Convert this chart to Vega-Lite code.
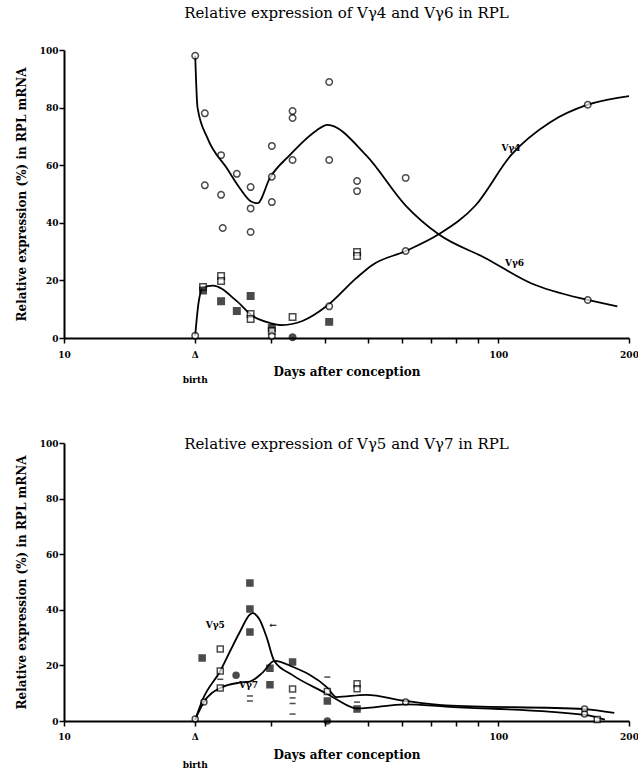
{
  "$schema": "https://vega.github.io/schema/vega-lite/v6.json",
  "background": "white",
  "padding": {"left": 15, "top": 6, "right": 0, "bottom": 0},
  "spacing": 53,
  "config": {
    "font": "DejaVu Serif",
    "view": {"stroke": null},
    "title": {"font": "DejaVu Serif", "fontSize": 15, "fontWeight": "normal", "color": "black", "anchor": "middle"},
    "axis": {
      "domainColor": "black", "domainWidth": 2, "tickColor": "black", "tickWidth": 1.5, "tickSize": 5,
      "labelFont": "DejaVu Serif", "labelFontWeight": "bold", "labelFontSize": 9, "labelColor": "black",
      "titleFont": "DejaVu Serif", "titleFontWeight": "bold", "titleFontSize": 12, "titleColor": "black",
      "grid": false
    }
  },
  "datasets": {
    "top_points": [
      {"day": 20.05, "value": 98, "marker": "open circle"},
      {"day": 21.1, "value": 78, "marker": "open circle"},
      {"day": 21.1, "value": 53, "marker": "open circle"},
      {"day": 23.0, "value": 63.5, "marker": "open circle"},
      {"day": 23.0, "value": 49.7, "marker": "open circle"},
      {"day": 23.2, "value": 38.2, "marker": "open circle"},
      {"day": 25.0, "value": 57, "marker": "open circle"},
      {"day": 26.9, "value": 52.4, "marker": "open circle"},
      {"day": 26.9, "value": 45, "marker": "open circle"},
      {"day": 26.9, "value": 36.8, "marker": "open circle"},
      {"day": 30.1, "value": 66.7, "marker": "open circle"},
      {"day": 30.1, "value": 56, "marker": "open circle"},
      {"day": 30.1, "value": 47.2, "marker": "open circle"},
      {"day": 33.6, "value": 78.8, "marker": "open circle"},
      {"day": 33.6, "value": 76.4, "marker": "open circle"},
      {"day": 33.6, "value": 61.8, "marker": "open circle"},
      {"day": 40.8, "value": 88.9, "marker": "open circle"},
      {"day": 40.8, "value": 61.8, "marker": "open circle"},
      {"day": 47.3, "value": 54.5, "marker": "open circle"},
      {"day": 47.3, "value": 51, "marker": "open circle"},
      {"day": 61.2, "value": 55.6, "marker": "open circle"},
      {"day": 160.7, "value": 13.2, "marker": "open circle"},
      {"day": 20.05, "value": 0.8, "marker": "open circle"},
      {"day": 20.9, "value": 17.7, "marker": "open square"},
      {"day": 20.9, "value": 16.5, "marker": "filled square"},
      {"day": 23.0, "value": 21.5, "marker": "open square"},
      {"day": 23.0, "value": 19.8, "marker": "open square"},
      {"day": 23.0, "value": 12.8, "marker": "filled square"},
      {"day": 25.0, "value": 9.4, "marker": "filled square"},
      {"day": 26.9, "value": 14.6, "marker": "filled square"},
      {"day": 26.9, "value": 8.3, "marker": "open square"},
      {"day": 26.9, "value": 6.6, "marker": "open square"},
      {"day": 30.1, "value": 3.5, "marker": "filled square"},
      {"day": 30.1, "value": 2.4, "marker": "open square"},
      {"day": 30.1, "value": 0.7, "marker": "open circle"},
      {"day": 33.6, "value": 7.3, "marker": "open square"},
      {"day": 33.6, "value": 0.3, "marker": "filled circle"},
      {"day": 40.8, "value": 11, "marker": "open circle"},
      {"day": 40.8, "value": 5.6, "marker": "filled square"},
      {"day": 47.3, "value": 29.9, "marker": "open square"},
      {"day": 47.3, "value": 28.5, "marker": "open square"},
      {"day": 61.2, "value": 30.2, "marker": "open circle"},
      {"day": 160.7, "value": 81, "marker": "open circle"}
    ],
    "top_curves": [
      {"series": "Vγ6", "day": 20.05, "value": 98},
      {"series": "Vγ6", "day": 20.3, "value": 80},
      {"series": "Vγ6", "day": 21.4, "value": 69.4},
      {"series": "Vγ6", "day": 23.7, "value": 59},
      {"series": "Vγ6", "day": 25.4, "value": 52},
      {"series": "Vγ6", "day": 26.9, "value": 47.5},
      {"series": "Vγ6", "day": 27.9, "value": 46.8},
      {"series": "Vγ6", "day": 29.8, "value": 55.6},
      {"series": "Vγ6", "day": 33.1, "value": 63.5},
      {"series": "Vγ6", "day": 38.1, "value": 72},
      {"series": "Vγ6", "day": 40.4, "value": 74},
      {"series": "Vγ6", "day": 49.6, "value": 63.5},
      {"series": "Vγ6", "day": 61.2, "value": 46},
      {"series": "Vγ6", "day": 72.9, "value": 36},
      {"series": "Vγ6", "day": 93.3, "value": 27.8},
      {"series": "Vγ6", "day": 119, "value": 19},
      {"series": "Vγ6", "day": 160.7, "value": 13.2},
      {"series": "Vγ6", "day": 188, "value": 11},
      {"series": "Vγ4", "day": 20.05, "value": 0.8},
      {"series": "Vγ4", "day": 20.4, "value": 12},
      {"series": "Vγ4", "day": 20.9, "value": 17.5},
      {"series": "Vγ4", "day": 22.0, "value": 18.2},
      {"series": "Vγ4", "day": 25.0, "value": 12.8},
      {"series": "Vγ4", "day": 27.2, "value": 7.6},
      {"series": "Vγ4", "day": 29.8, "value": 5.2},
      {"series": "Vγ4", "day": 31.8, "value": 4.5},
      {"series": "Vγ4", "day": 35.4, "value": 5.9},
      {"series": "Vγ4", "day": 40.2, "value": 11},
      {"series": "Vγ4", "day": 47.1, "value": 20.8},
      {"series": "Vγ4", "day": 51.2, "value": 25.3},
      {"series": "Vγ4", "day": 61.2, "value": 30.2},
      {"series": "Vγ4", "day": 72.9, "value": 36},
      {"series": "Vγ4", "day": 88.6, "value": 46},
      {"series": "Vγ4", "day": 107, "value": 63.5},
      {"series": "Vγ4", "day": 132, "value": 75},
      {"series": "Vγ4", "day": 160.7, "value": 81},
      {"series": "Vγ4", "day": 200, "value": 84}
    ],
    "top_labels": [
      {"day": 107, "value": 66, "text": "Vγ4"},
      {"day": 109, "value": 26, "text": "Vγ6"}
    ],
    "bot_points": [
      {"day": 26.8, "value": 49.6, "marker": "filled square"},
      {"day": 26.8, "value": 40.3, "marker": "filled square"},
      {"day": 26.8, "value": 32, "marker": "filled square"},
      {"day": 20.8, "value": 22.7, "marker": "filled square"},
      {"day": 24.9, "value": 16.5, "marker": "filled circle"},
      {"day": 29.8, "value": 19, "marker": "filled square"},
      {"day": 29.8, "value": 13, "marker": "filled square"},
      {"day": 33.6, "value": 21.2, "marker": "filled square"},
      {"day": 40.4, "value": 7.2, "marker": "filled square"},
      {"day": 47.3, "value": 4.3, "marker": "filled square"},
      {"day": 40.4, "value": 0, "marker": "filled circle"},
      {"day": 22.9, "value": 25.9, "marker": "open square"},
      {"day": 22.9, "value": 18, "marker": "open square"},
      {"day": 22.9, "value": 11.9, "marker": "open square"},
      {"day": 33.6, "value": 11.5, "marker": "open square"},
      {"day": 40.4, "value": 10.6, "marker": "open square"},
      {"day": 47.3, "value": 13.4, "marker": "open square"},
      {"day": 47.3, "value": 11.6, "marker": "open square"},
      {"day": 169, "value": 0.5, "marker": "open square"},
      {"day": 20.05, "value": 0.7, "marker": "open circle"},
      {"day": 21.0, "value": 6.8, "marker": "open circle"},
      {"day": 61.2, "value": 6.8, "marker": "open circle"},
      {"day": 158, "value": 4.3, "marker": "open circle"},
      {"day": 158, "value": 2.5, "marker": "open circle"},
      {"day": 22.9, "value": 15, "marker": "dash"},
      {"day": 26.8, "value": 9, "marker": "dash"},
      {"day": 26.8, "value": 7.2, "marker": "dash"},
      {"day": 33.6, "value": 8.3, "marker": "dash"},
      {"day": 33.6, "value": 6.3, "marker": "dash"},
      {"day": 33.6, "value": 2.5, "marker": "dash"},
      {"day": 40.4, "value": 15.8, "marker": "dash"},
      {"day": 47.3, "value": 6.8, "marker": "dash"}
    ],
    "bot_curves": [
      {"series": "Vγ5", "day": 20.05, "value": 0.5},
      {"series": "Vγ5", "day": 20.9, "value": 8},
      {"series": "Vγ5", "day": 22.9, "value": 18},
      {"series": "Vγ5", "day": 24.1, "value": 25},
      {"series": "Vγ5", "day": 25.4, "value": 32},
      {"series": "Vγ5", "day": 26.8, "value": 38.3},
      {"series": "Vγ5", "day": 27.2, "value": 38.8},
      {"series": "Vγ5", "day": 28.2, "value": 36.5},
      {"series": "Vγ5", "day": 29.3, "value": 30},
      {"series": "Vγ5", "day": 30.5, "value": 21.6},
      {"series": "Vγ5", "day": 33.6, "value": 16.5},
      {"series": "Vγ5", "day": 40.4, "value": 9.7},
      {"series": "Vγ5", "day": 42.4, "value": 7.8},
      {"series": "Vγ5", "day": 47.3, "value": 4.5},
      {"series": "Vγ5", "day": 61.2, "value": 6.0},
      {"series": "Vγ5", "day": 75.7, "value": 5.2},
      {"series": "Vγ5", "day": 158, "value": 2.2},
      {"series": "Vγ5", "day": 176, "value": 0.5},
      {"series": "Vγ7", "day": 20.05, "value": 0.5},
      {"series": "Vγ7", "day": 21.0, "value": 6.8},
      {"series": "Vγ7", "day": 22.9, "value": 11.9},
      {"series": "Vγ7", "day": 25.4, "value": 13.8},
      {"series": "Vγ7", "day": 26.8, "value": 14.2},
      {"series": "Vγ7", "day": 28.7, "value": 17.5},
      {"series": "Vγ7", "day": 30.5, "value": 21.6},
      {"series": "Vγ7", "day": 33.6, "value": 19.5},
      {"series": "Vγ7", "day": 40.4, "value": 12},
      {"series": "Vγ7", "day": 42.4, "value": 8.6},
      {"series": "Vγ7", "day": 49.6, "value": 9.4},
      {"series": "Vγ7", "day": 61.2, "value": 7.2},
      {"series": "Vγ7", "day": 75.7, "value": 5.6},
      {"series": "Vγ7", "day": 158, "value": 4.3},
      {"series": "Vγ7", "day": 185, "value": 2.9}
    ],
    "bot_labels": [
      {"day": 22.3, "value": 34.5, "text": "Vγ5"},
      {"day": 26.6, "value": 12.8, "text": "Vγ7"},
      {"day": 30.3, "value": 34.5, "text": "←"}
    ]
  },
  "vconcat": [
    {
      "width": 565,
      "height": 288,
      "title": {"text": "Relative expression of Vγ4 and Vγ6 in RPL", "offset": 25},
      "layer": [
        {
          "data": {"name": "top_curves"},
          "mark": {"type": "line", "interpolate": "monotone", "color": "black", "strokeWidth": 1.8},
          "encoding": {
            "x": {"field": "day", "type": "quantitative", "scale": {"type": "log", "domain": [10, 200], "nice": false},
              "axis": {"values": [10, 20, 30, 40, 50, 60, 70, 80, 90, 100, 200], "title": "Days after conception",
                "labelExpr": "datum.value == 20 ? ['Δ', 'birth'] : (datum.value == 10 || datum.value == 100 || datum.value == 200) ? datum.label : ''",
                "labelLineHeight": 25, "labelPadding": 7, "labelFlush": false, "labelOverlap": false, "titleY": 37, "titleBaseline": "alphabetic"}},
            "y": {"field": "value", "type": "quantitative", "scale": {"domain": [0, 100], "nice": false},
              "axis": {"values": [0, 10, 20, 30, 40, 50, 60, 70, 80, 90, 100], "labelExpr": "datum.value % 20 == 0 ? datum.label : ''",
                "title": "Relative expression (%) in RPL mRNA", "titlePadding": 11, "labelPadding": 1}},
            "detail": {"field": "series"}
          }
        },
        {
          "data": {"name": "top_points"},
          "mark": {"type": "point", "filled": true, "stroke": "black", "strokeWidth": 1.5, "size": 42},
          "encoding": {
            "x": {"field": "day", "type": "quantitative"},
            "y": {"field": "value", "type": "quantitative"},
            "shape": {"field": "marker", "type": "nominal", "legend": null,
              "scale": {"domain": ["open circle", "open square", "filled square", "filled circle", "dash"], "range": ["circle", "square", "square", "circle", "stroke"]}},
            "fill": {"field": "marker", "type": "nominal", "legend": null,
              "scale": {"domain": ["open circle", "open square", "filled square", "filled circle", "dash"], "range": ["white", "white", "black", "black", "black"]}}
          }
        },
        {
          "data": {"name": "top_labels"},
          "mark": {"type": "text", "font": "DejaVu Serif", "fontSize": 9, "fontWeight": "bold", "color": "black"},
          "encoding": {
            "x": {"field": "day", "type": "quantitative"},
            "y": {"field": "value", "type": "quantitative"},
            "text": {"field": "text"}
          }
        }
      ]
    },
    {
      "width": 565,
      "height": 278,
      "title": {"text": "Relative expression of Vγ5 and Vγ7 in RPL", "offset": -13},
      "layer": [
        {
          "data": {"name": "bot_curves"},
          "mark": {"type": "line", "interpolate": "monotone", "color": "black", "strokeWidth": 1.8},
          "encoding": {
            "x": {"field": "day", "type": "quantitative", "scale": {"type": "log", "domain": [10, 200], "nice": false},
              "axis": {"values": [10, 20, 30, 40, 50, 60, 70, 80, 90, 100, 200], "title": "Days after conception",
                "labelExpr": "datum.value == 20 ? ['Δ', 'birth'] : (datum.value == 10 || datum.value == 100 || datum.value == 200) ? datum.label : ''",
                "labelLineHeight": 28, "labelPadding": 6, "labelFlush": false, "labelOverlap": false, "titleY": 37, "titleBaseline": "alphabetic"}},
            "y": {"field": "value", "type": "quantitative", "scale": {"domain": [0, 100], "nice": false},
              "axis": {"values": [0, 10, 20, 30, 40, 50, 60, 70, 80, 90, 100], "labelExpr": "datum.value % 20 == 0 ? datum.label : ''",
                "title": "Relative expression (%) in RPL mRNA", "titlePadding": 11, "labelPadding": 1}},
            "detail": {"field": "series"}
          }
        },
        {
          "data": {"name": "bot_points"},
          "mark": {"type": "point", "filled": true, "stroke": "black", "strokeWidth": 1.5, "size": 36},
          "encoding": {
            "x": {"field": "day", "type": "quantitative"},
            "y": {"field": "value", "type": "quantitative"},
            "shape": {"field": "marker", "type": "nominal", "legend": null,
              "scale": {"domain": ["open circle", "open square", "filled square", "filled circle", "dash"], "range": ["circle", "square", "square", "circle", "stroke"]}},
            "fill": {"field": "marker", "type": "nominal", "legend": null,
              "scale": {"domain": ["open circle", "open square", "filled square", "filled circle", "dash"], "range": ["white", "white", "black", "black", "black"]}}
          }
        },
        {
          "data": {"name": "bot_labels"},
          "mark": {"type": "text", "font": "DejaVu Serif", "fontSize": 9, "fontWeight": "bold", "color": "black"},
          "encoding": {
            "x": {"field": "day", "type": "quantitative"},
            "y": {"field": "value", "type": "quantitative"},
            "text": {"field": "text"}
          }
        }
      ]
    }
  ]
}
